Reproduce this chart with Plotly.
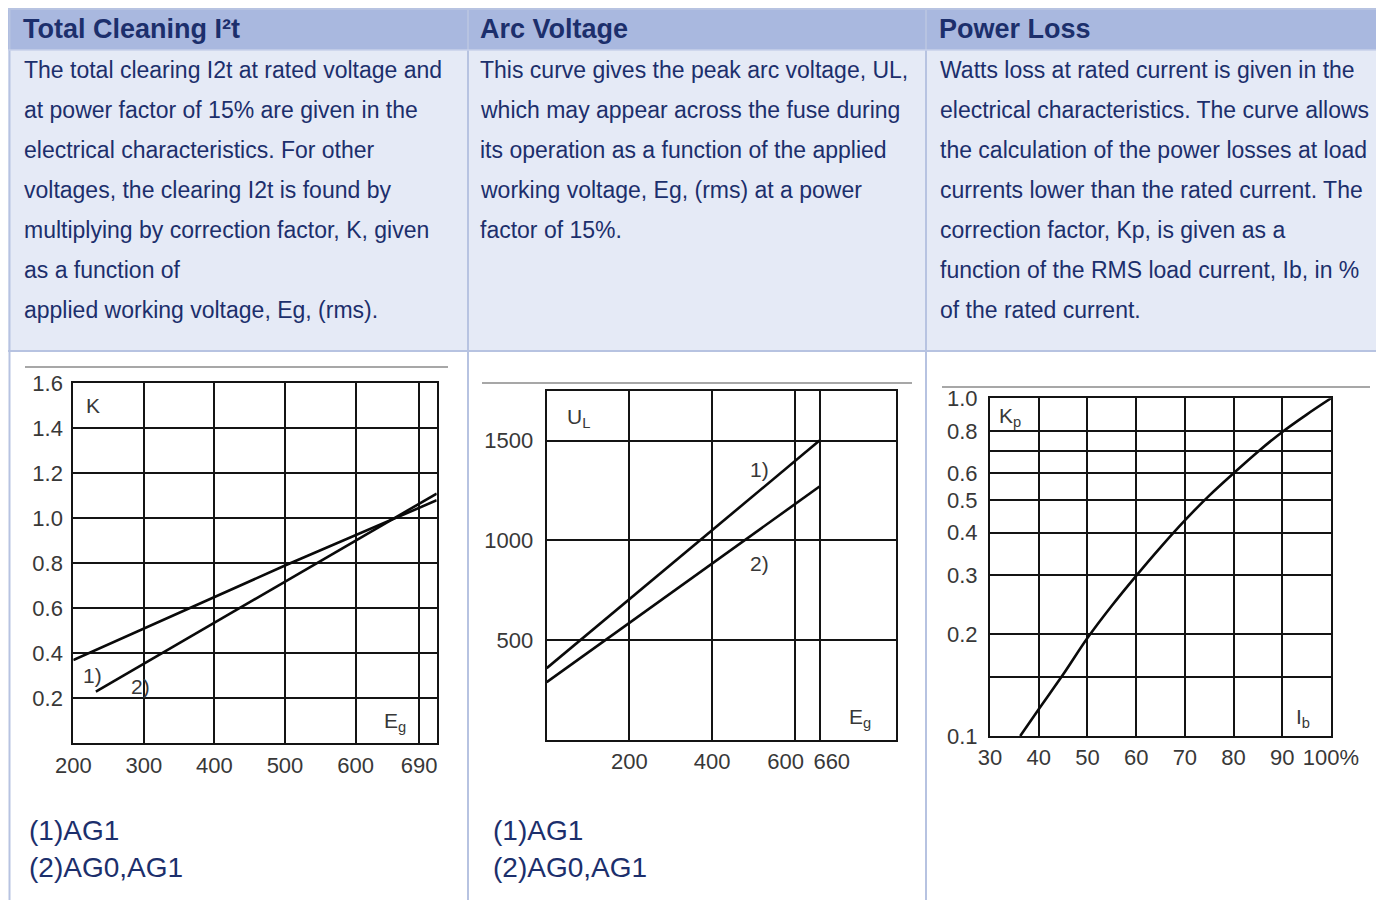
import math
import plotly.graph_objects as go

# The page body has an 8px margin, so the figure is drawn 8px smaller and
# every reference pixel position is shifted by that margin.
OFF = 8
FW, FH = 1384 - OFF, 900 - OFF

# ---------------- data ----------------
# Chart 1: correction factor K vs working voltage Eg
k_eg_1 = [200, 500, 715]
k_val_1 = [0.37, 0.79, 1.08]
k_eg_2 = [232, 500, 715]
k_val_2 = [0.23, 0.72, 1.11]
k_xticks = [200, 300, 400, 500, 600, 690]
k_yticks = [0.2, 0.4, 0.6, 0.8, 1.0, 1.2, 1.4, 1.6]

# Chart 2: peak arc voltage UL vs Eg
ul_eg = [0, 660]
ul_val_1 = [360, 1500]
ul_val_2 = [290, 1270]
ul_xticks = [200, 400, 600, 660]
ul_xlabels = ["200", "400", "600\u00a0\u00a0\u00a0", "\u00a0\u00a0\u00a0\u00a0660"]
ul_yticks = [500, 1000, 1500]

# Chart 3: Kp vs Ib (% of rated current), log y
kp_ib = [36.2, 40, 45, 50, 55, 60, 65, 70, 75, 80, 85, 90, 95, 100]
kp_val = [0.1, 0.12, 0.152, 0.195, 0.243, 0.298, 0.362, 0.435, 0.515, 0.6, 0.695, 0.795, 0.895, 1.0]
kp_xticks = [30, 40, 50, 60, 70, 80, 90, 100]
kp_xlabels = ["30", "40", "50", "60", "70", "80", "90", "100%"]
kp_yticks = [0.1, 0.2, 0.3, 0.4, 0.5, 0.6, 0.8, 1.0]
kp_minor_grid = [0.15, 0.7]
kp_partial_grid = 0.9

headers = ["Total Cleaning I²t", "Arc Voltage", "Power Loss"]
col1_text = [
    "The total clearing I2t at rated voltage and",
    "at power factor of 15% are given in the",
    "electrical characteristics. For other",
    "voltages, the clearing I2t is found by",
    "multiplying by correction factor, K, given",
    "as a function of",
    "applied working voltage, Eg, (rms).",
]
col2_text = [
    "This curve gives the peak arc voltage, UL,",
    "which may appear across the fuse during",
    "its operation as a function of the applied",
    "working voltage, Eg, (rms) at a power",
    "factor of 15%.",
]
col3_text = [
    "Watts loss at rated current is given in the",
    "electrical characteristics. The curve allows",
    "the calculation of the power losses at load",
    "currents lower than the rated current. The",
    "correction factor, Kp, is given as a",
    "function of the RMS load current, Ib, in %",
    "of the rated current.",
]
footnotes = ["(1)AG1", "(2)AG0,AG1"]

# ---------------- helpers ----------------
def px(x):
    return (x - OFF) / FW


def py(y):
    return 1 - (y - OFF) / FH


FONT = "Liberation Sans, Arial, Helvetica, sans-serif"
NAVY = "#1c2f6c"
TICK_COLOR = "#383838"
LINE = "#141414"
GRID_W = 1.7

fig = go.Figure()

curve = dict(color="#0a0a0a", width=2.6)
fig.add_trace(go.Scatter(x=k_eg_1, y=k_val_1, mode="lines", line=curve,
                         xaxis="x", yaxis="y", hoverinfo="skip"))
fig.add_trace(go.Scatter(x=k_eg_2, y=k_val_2, mode="lines", line=curve,
                         xaxis="x", yaxis="y", hoverinfo="skip"))
fig.add_trace(go.Scatter(x=ul_eg, y=ul_val_1, mode="lines", line=curve,
                         xaxis="x2", yaxis="y2", hoverinfo="skip"))
fig.add_trace(go.Scatter(x=ul_eg, y=ul_val_2, mode="lines", line=curve,
                         xaxis="x2", yaxis="y2", hoverinfo="skip"))
fig.add_trace(go.Scatter(x=kp_ib, y=kp_val, mode="lines",
                         line=dict(color="#0a0a0a", width=2.6, shape="spline", smoothing=1.0),
                         xaxis="x3", yaxis="y3", hoverinfo="skip"))


def axis(**kw):
    base = dict(showline=True, mirror=True, linecolor=LINE, linewidth=2,
                showgrid=True, gridcolor=LINE, gridwidth=GRID_W, zeroline=False,
                ticks="", ticklabelstandoff=4, tickangle=0, automargin=False,
                tickfont=dict(family=FONT, size=22, color=TICK_COLOR),
                fixedrange=True)
    base.update(kw)
    return base


# plot-area pixel boxes in the reference (left, right, top, bottom)
b1 = (73.3, 436.7, 383.3, 743.3)
b2 = (546.7, 896.0, 390.7, 740.0)
b3 = (990.0, 1331.0, 398.3, 736.0)

fig.update_layout(
    width=FW, height=FH, autosize=False,
    margin=dict(l=0, r=0, t=0, b=0, pad=0, autoexpand=False),
    paper_bgcolor="white", plot_bgcolor="white",
    showlegend=False,
    xaxis=axis(domain=[px(b1[0]), px(b1[1])], anchor="y", range=[200, 715],
               tickmode="array", tickvals=k_xticks, ticklabelstandoff=1),
    yaxis=axis(domain=[py(b1[3]), py(b1[2])], anchor="x", range=[0, 1.6],
               tickmode="array", tickvals=k_yticks,
               ticktext=[f"{v:.1f}" for v in k_yticks], ticklabelstandoff=4),
    xaxis2=axis(domain=[px(b2[0]), px(b2[1])], anchor="y2", range=[0, 845],
                tickmode="array", tickvals=ul_xticks, ticktext=ul_xlabels,
                ticklabelstandoff=1),
    yaxis2=axis(domain=[py(b2[3]), py(b2[2])], anchor="x2", range=[0, 1750],
                tickmode="array", tickvals=ul_yticks, ticklabelstandoff=7),
    xaxis3=axis(domain=[px(b3[0]), px(b3[1])], anchor="y3", range=[30, 100],
                tickmode="array", tickvals=kp_xticks, ticktext=kp_xlabels,
                ticklabelstandoff=1),
    yaxis3=axis(domain=[py(b3[3]), py(b3[2])], anchor="x3", type="log",
                range=[-1, 0], tickmode="array", tickvals=kp_yticks,
                ticktext=[f"{v:.1f}" for v in kp_yticks], ticklabelstandoff=6,
                minor=dict(tickmode="array", tickvals=kp_minor_grid, showgrid=True,
                           gridcolor=LINE, gridwidth=GRID_W, ticks="")),
)

shapes = []
# table background
shapes.append(dict(type="rect", xref="paper", yref="paper", layer="below",
                   x0=px(8), x1=px(1382), y0=py(8), y1=py(50),
                   fillcolor="#a9b8df", line=dict(width=0)))
shapes.append(dict(type="rect", xref="paper", yref="paper", layer="below",
                   x0=px(8), x1=px(1382), y0=py(50), y1=py(351),
                   fillcolor="#e5eaf6", line=dict(width=0)))
border = dict(color="#b7c3e1", width=2)
for x in [9.5, 468, 926, 1381.5]:
    shapes.append(dict(type="line", xref="paper", yref="paper", layer="below",
                       x0=px(x), x1=px(x), y0=py(8), y1=py(900), line=border))
for y in [9, 351]:
    shapes.append(dict(type="line", xref="paper", yref="paper", layer="below",
                       x0=px(8), x1=px(1382), y0=py(y), y1=py(y), line=border))
shapes.append(dict(type="line", xref="paper", yref="paper", layer="below",
                   x0=px(8), x1=px(1382), y0=py(50), y1=py(50),
                   line=dict(color="#c7d1ea", width=1.5)))
# thin grey rules above each chart
for x0, x1, y in [(25, 448, 367), (482, 912, 383), (942, 1370, 387)]:
    shapes.append(dict(type="line", xref="paper", yref="paper",
                       x0=px(x0), x1=px(x1), y0=py(y), y1=py(y),
                       line=dict(color="#8a8a8a", width=1.5)))
# partial gridline at 0.9 in chart 3 (starts after the Kp label)
shapes.append(dict(type="line", xref="x3", yref="y3", layer="below",
                   x0=40, x1=100, y0=math.log10(kp_partial_grid),
                   y1=math.log10(kp_partial_grid),
                   line=dict(color=LINE, width=GRID_W)))
fig.update_layout(shapes=shapes)

ann = []


def text(x, y, s, size, color, bold=False, anchor="left"):
    ann.append(dict(x=px(x), y=py(y), xref="paper", yref="paper", text=s,
                    showarrow=False, xanchor=anchor, yanchor="middle",
                    font=dict(family=FONT, size=size, color=color,
                              weight="bold" if bold else "normal")))


for x, h in zip([21, 478, 937], headers):
    text(x, 29, h, 27, NAVY, bold=True)

for x, lines in zip([22, 478, 938], [col1_text, col2_text, col3_text]):
    for i, line in enumerate(lines):
        text(x, 70 + 40 * i, line, 23, NAVY)

for x in [27, 491]:
    for i, f in enumerate(footnotes):
        text(x, 830 + 37 * i, f, 28, NAVY)

# in-chart labels
lab = 21
text(93, 405, "K", lab, TICK_COLOR, anchor="center")
text(92, 675, "1)", lab, TICK_COLOR, anchor="center")
text(140, 686, "2)", lab, TICK_COLOR, anchor="center")
text(395, 722, "E<sub>g</sub>", lab, TICK_COLOR, anchor="center")

text(578, 418, "U<sub>L</sub>", lab, TICK_COLOR, anchor="center")
text(759, 469, "1)", lab, TICK_COLOR, anchor="center")
text(759, 563, "2)", lab, TICK_COLOR, anchor="center")
text(860, 718, "E<sub>g</sub>", lab, TICK_COLOR, anchor="center")

text(1010, 417, "K<sub>p</sub>", lab, TICK_COLOR, anchor="center")
text(1303, 718, "I<sub>b</sub>", lab, TICK_COLOR, anchor="center")

fig.update_layout(annotations=ann)

fig.write_html("out.html")
